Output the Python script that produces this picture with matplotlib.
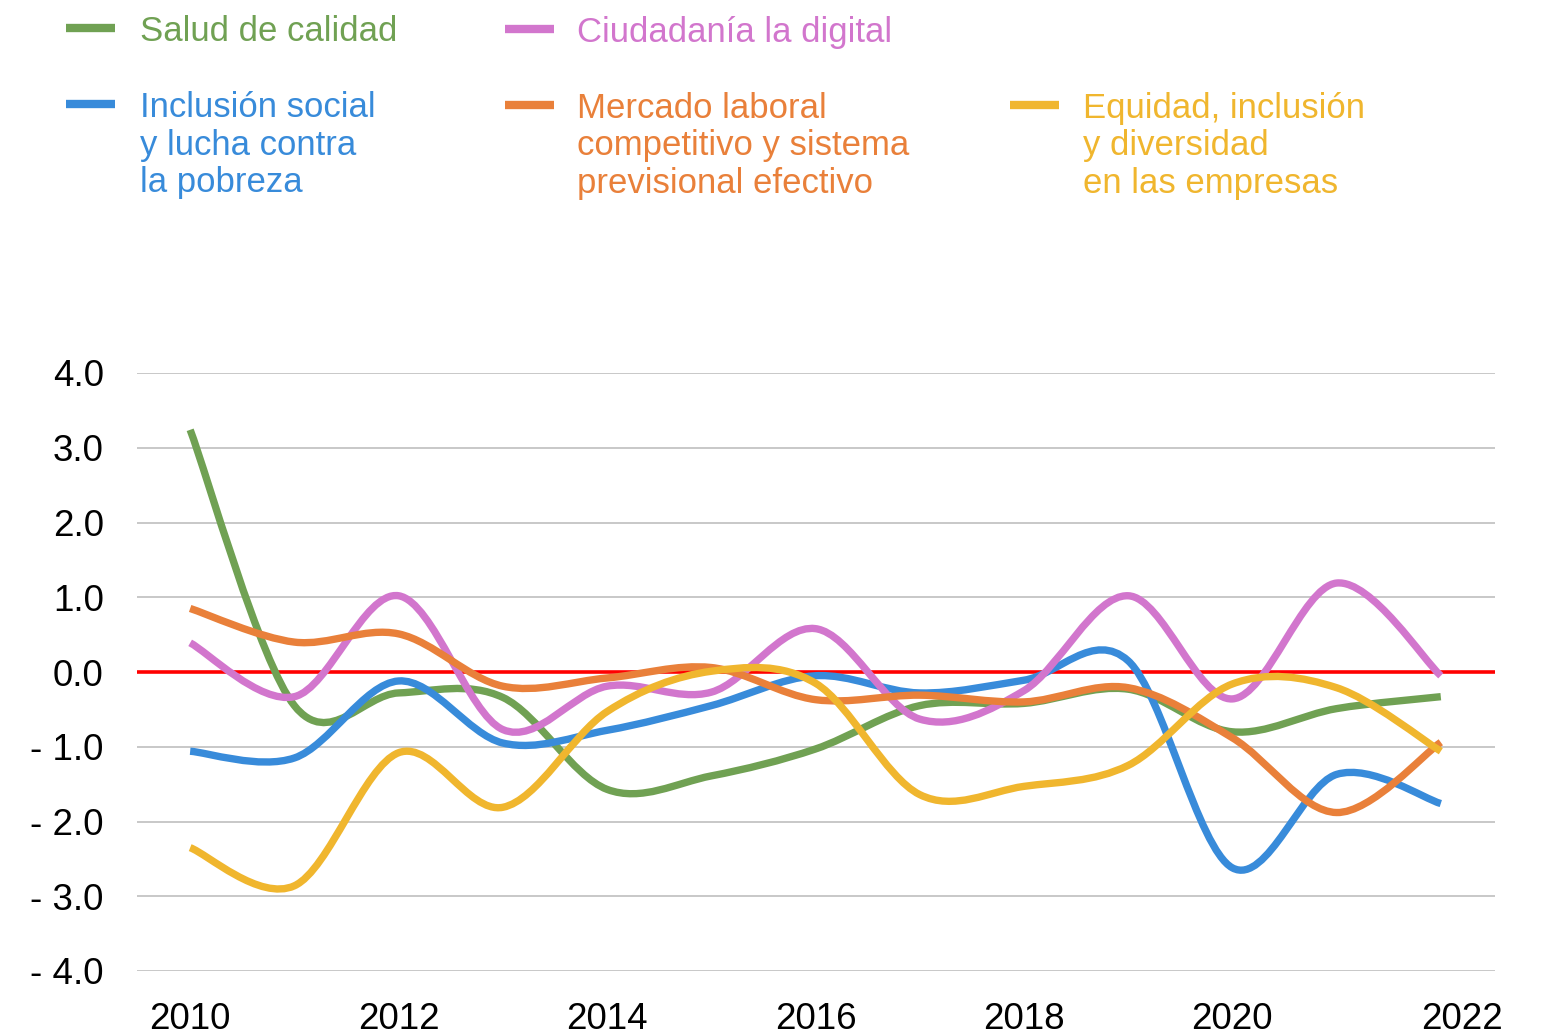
import numpy as np
import matplotlib
matplotlib.use("Agg")
import matplotlib.pyplot as plt
import matplotlib.transforms as mtransforms
from matplotlib.path import Path
from matplotlib.patches import PathPatch
from matplotlib.lines import Line2D

# Data
years = np.arange(2010, 2023)
salud = [3.24, -0.45, -0.28, -0.34, -1.57, -1.39, -1.03, -0.45, -0.42, -0.23, -0.80, -0.49, -0.33]
inclusion = [-1.06, -1.15, -0.12, -0.95, -0.78, -0.45, -0.05, -0.28, -0.11, 0.15, -2.62, -1.37, -1.76]
ciudadania = [0.39, -0.33, 1.02, -0.77, -0.19, -0.27, 0.58, -0.63, -0.25, 1.02, -0.36, 1.19, -0.05]
mercado = [0.85, 0.40, 0.51, -0.19, -0.08, 0.06, -0.37, -0.31, -0.40, -0.21, -0.88, -1.88, -0.94]
equidad = [-2.35, -2.86, -1.08, -1.81, -0.53, 0.01, -0.15, -1.64, -1.53, -1.25, -0.16, -0.21, -1.06]

series_names = [
    "Salud de calidad",
    "Inclusión social\ny lucha contra\nla pobreza",
    "Ciudadanía la digital",
    "Mercado laboral\ncompetitivo y sistema\nprevisional efectivo",
    "Equidad, inclusión\ny diversidad\nen las empresas",
]
series_values = [salud, inclusion, ciudadania, mercado, equidad]
colors = ["#70A153", "#388BDA", "#D276CD", "#E9803A", "#F0B62E"]

y_ticks = [4, 3, 2, 1, 0, -1, -2, -3, -4]
x_ticks = [2010, 2012, 2014, 2016, 2018, 2020, 2022]

plt.rcParams["font.family"] = ["Liberation Sans", "DejaVu Sans"]

W, H = 1544, 1034


def smooth_path(x, y):
    """Excel-style smoothed line as cubic bezier segments"""
    pts = np.column_stack([x, y]).astype(float)
    n = len(pts)
    verts = [pts[0]]
    codes = [Path.MOVETO]
    for i in range(n - 1):
        p0 = pts[max(i - 1, 0)]
        p1 = pts[i]
        p2 = pts[i + 1]
        p3 = pts[min(i + 2, n - 1)]
        c1 = p1 + (p2 - p0) / 6
        c2 = p2 - (p3 - p1) / 6
        verts += [c1, c2, p2]
        codes += [Path.CURVE4] * 3
    return Path(verts, codes)


fig = plt.figure(figsize=(W / 100, H / 100), dpi=100)
ax = fig.add_axes([137 / W, 1 - 971 / H, (1495 - 137) / W, (971 - 373) / H])

# Grid lines and zero line
for v in y_ticks:
    ax.axhline(v, color="#C8C8C8", lw=1.4, zorder=1)
ax.axhline(0, color="#FF0000", lw=2.6, zorder=2)

# Smoothed lines
for vals, col in zip(series_values, colors):
    patch = PathPatch(
        smooth_path(years, vals),
        facecolor="none",
        edgecolor=col,
        lw=5.3,
        capstyle="butt",
        joinstyle="round",
        zorder=3,
    )
    ax.add_patch(patch)

ax.set_xlim(2009.49, 2022.52)
ax.set_ylim(-4, 4)

ax.set_yticks(y_ticks)
ax.set_yticklabels([f"{v:.1f}" if v >= 0 else f"- {abs(v):.1f}" for v in y_ticks])
ax.set_xticks(x_ticks)
ax.set_xticklabels([str(y) for y in x_ticks])
ax.tick_params(axis="both", length=0, labelsize=26.5, colors="black")
ax.tick_params(axis="y", pad=24)
ax.tick_params(axis="x", pad=22)

# Last year label sits a little to the right in the original
last = ax.get_xticklabels()[-1]
last.set_transform(last.get_transform() + mtransforms.ScaledTranslation(0.21, 0, fig.dpi_scale_trans))

for s in ax.spines.values():
    s.set_visible(False)

# Legend drawn by hand: (handle left x, text x, first baseline y) in pixels
legend_pos = [
    (66, 140, 41),
    (66, 140, 117),
    (505, 577, 42),
    (505, 577, 118),
    (1010, 1083, 118),
]
for name, col, (hx, tx, by) in zip(series_names, colors, legend_pos):
    hy = 1 - (by - 13.5) / H
    fig.add_artist(
        Line2D([hx / W, (hx + 49) / W], [hy, hy], color=col, lw=6, solid_capstyle="butt",
               transform=fig.transFigure)
    )
    for k, line in enumerate(name.split("\n")):
        fig.text(tx / W, 1 - (by + k * 37.5) / H, line, color=col, fontsize=25,
                 ha="left", va="baseline")

fig.savefig("out.png", dpi=100)
